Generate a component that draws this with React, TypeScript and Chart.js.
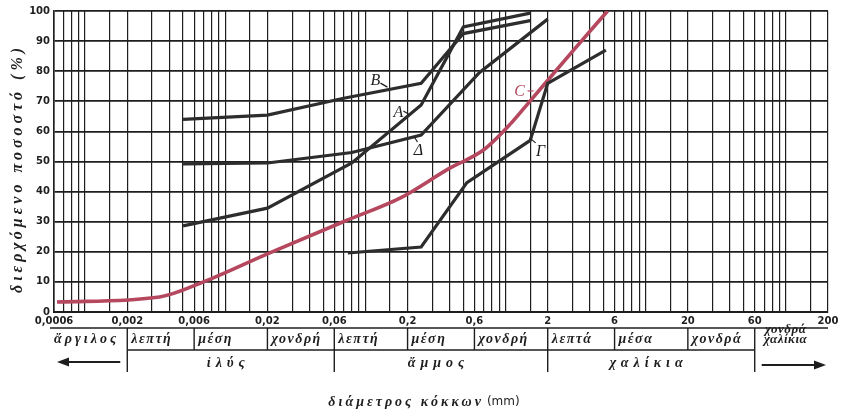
import { useEffect, useRef } from "react";
import { Chart, registerables } from "chart.js";

Chart.register(...registerables);

// ---- data (grain diameter in mm, passing %) ----
const sizesA = [0.005, 0.02, 0.08, 0.25, 0.5, 1.5];
const passingA = [28.6, 34.5, 49.5, 68.8, 94.7, 99.3];
const sizesB = [0.005, 0.02, 0.07, 0.25, 0.5, 1.5];
const passingB = [64, 65.4, 71, 76, 92.5, 96.8];
const sizesDelta = [0.005, 0.02, 0.08, 0.25, 0.65, 2];
const passingDelta = [49.2, 49.5, 53, 58.8, 79.5, 97.3];
const sizesGamma = [0.075, 0.25, 0.53, 1.5, 2, 5.2];
const passingGamma = [19.6, 21.6, 43, 57, 76, 87];
const sizesC = [0.00063, 0.0034, 0.007, 0.02, 0.074, 0.178, 0.4, 0.695, 1.085, 1.43, 2.09, 3.06, 5.35];
const passingC = [3.3, 5, 10, 19.3, 30.5, 37.9, 47.8, 53.8, 62.5, 69, 78, 87, 100];

// curve name labels (anchor in data space)
const curveNames = ["B", "A", "Δ", "C", "Γ"];
const curveNameSizes = [0.118, 0.172, 0.239, 1.26, 1.78];
const curveNamePassing = [76.7, 66.1, 53.5, 73.1, 53.2];

// axis ticks
const xMin = 0.0006;
const xMax = 200;
const gridMultipliers = [1, 1.5, 2, 3, 4, 5, 6, 7, 8, 9];
const gridDecades = [-4, -3, -2, -1, 0, 1, 2];
const xLabelTicks = [0.0006, 0.002, 0.006, 0.02, 0.06, 0.2, 0.6, 2, 6, 20, 60, 200];

// classification table
const classBounds = [0.0006, 0.002, 0.006, 0.02, 0.06, 0.2, 0.6, 2, 6, 20, 60, 200];
const classNames = ["ἄργιλος", "λεπτή", "μέση", "χονδρή", "λεπτή", "μέση", "χονδρή", "λεπτά", "μέσα", "χονδρά"];
const lastClassLines = ["χονδρά", "χαλίκια"];
const groupBounds = [0.002, 0.06, 2, 60];
const groupNames = ["ἰλύς", "ἄμμος", "χαλίκια"];

const yTitle = "διερχόμενο ποσοστό (%)";
const xTitleMain = "διάμετρος κόκκων";
const xTitleUnit = "(mm)";

// ---- styles ----
const INK = "#1e1e1e";
const CURVE = "#2d2d2d";
const RED = "#b5485f";
const SERIF = '"Liberation Serif", "DejaVu Serif", serif';
const SANS = '"DejaVu Sans", "Liberation Sans", sans-serif';
const nameTicks = [
  [5, 2, 12, 6],
  [5, -2, 10, 1],
  [-1, -9, -4, -14],
  [8, -1, 14, -1],
  [-11, -14, -5, -9],
];

const gridValues: number[] = [];
gridDecades.forEach((e) =>
  gridMultipliers.forEach((m) => {
    const v = Number((m * Math.pow(10, e)).toPrecision(6));
    if (v >= xMin * 0.999 && v <= xMax * 1.001) gridValues.push(v);
  })
);

const fmt = (v: number) => String(v).replace(".", ",");
const isLabelled = (v: number) => xLabelTicks.some((t) => Math.abs(t - v) / t < 1e-6);

const pts = (xs: number[], ys: number[]) => xs.map((x, i) => ({ x, y: ys[i] }));

function spaced(ctx: any, text: string, x: number, y: number, spacing: number, align: "center" | "left") {
  ctx.letterSpacing = spacing + "px";
  ctx.textAlign = "left";
  const w = ctx.measureText(text).width - spacing;
  const left = align === "center" ? x - w / 2 : x;
  ctx.fillText(text, left, y);
  ctx.letterSpacing = "0px";
  return w;
}

const overlay = {
  id: "overlay",
  beforeDraw(chart: any) {
    const ctx = chart.ctx;
    ctx.save();
    ctx.fillStyle = "#fff";
    ctx.fillRect(0, 0, chart.width, chart.height);
    ctx.restore();
  },
  afterDraw(chart: any) {
    const ctx = chart.ctx;
    const xs = chart.scales.x;
    const ys = chart.scales.y;
    const area = chart.chartArea;
    const px = (v: number) => xs.getPixelForValue(v);
    ctx.save();
    ctx.strokeStyle = INK;
    ctx.fillStyle = INK;
    ctx.lineWidth = 1.4;

    const top = area.bottom + 16;
    const mid = area.bottom + 38;
    const bot = area.bottom + 60;

    const line = (x1: number, y1: number, x2: number, y2: number) => {
      ctx.beginPath();
      ctx.moveTo(x1, y1);
      ctx.lineTo(x2, y2);
      ctx.stroke();
    };

    line(area.left - 4, top, area.right, top);
    line(px(groupBounds[0]), mid, px(groupBounds[groupBounds.length - 1]), mid);
    classBounds.slice(1, -1).forEach((b) => line(px(b), top, px(b), mid));
    groupBounds.forEach((b) => line(px(b), mid, px(b), bot));

    // row 1 names
    ctx.textBaseline = "middle";
    ctx.font = `italic bold 14px ${SERIF}`;
    classNames.forEach((n, i) => {
      const l = px(classBounds[i]);
      if (i === 0) spaced(ctx, n, l, top + 11, 3, "left");
      else spaced(ctx, n, l + 4, top + 11, 1.5, "left");
    });
    ctx.font = `italic bold 13px ${SERIF}`;
    const lc = (px(classBounds[classBounds.length - 2]) + area.right) / 2;
    spaced(ctx, lastClassLines[0], lc - 6, top + 2, 0.5, "center");
    spaced(ctx, lastClassLines[1], lc - 6, top + 12, 0.5, "center");

    // row 2 names
    ctx.font = `italic bold 14px ${SERIF}`;
    groupNames.forEach((n, i) => {
      const c = (px(groupBounds[i]) + px(groupBounds[i + 1])) / 2;
      spaced(ctx, n, c - 5, mid + 13, 5, "center");
    });

    // arrows
    const ay1 = mid + 12;
    ctx.lineWidth = 2.2;
    line(px(groupBounds[0]) - 7, ay1, area.left + 8, ay1);
    ctx.beginPath();
    ctx.moveTo(area.left + 3, ay1);
    ctx.lineTo(area.left + 15, ay1 - 4.5);
    ctx.lineTo(area.left + 15, ay1 + 4.5);
    ctx.closePath();
    ctx.fill();
    const ay2 = mid + 15;
    const gx = px(groupBounds[groupBounds.length - 1]);
    line(gx + 7, ay2, area.right - 8, ay2);
    ctx.beginPath();
    ctx.moveTo(area.right - 2, ay2);
    ctx.lineTo(area.right - 14, ay2 - 4.5);
    ctx.lineTo(area.right - 14, ay2 + 4.5);
    ctx.closePath();
    ctx.fill();

    // x title
    ctx.font = `italic bold 14px ${SERIF}`;
    ctx.letterSpacing = "3px";
    const wMain = ctx.measureText(xTitleMain).width;
    ctx.letterSpacing = "0px";
    ctx.font = `12px ${SANS}`;
    const wUnit = ctx.measureText(xTitleUnit).width;
    const total = wMain + 3 + wUnit;
    const tx = 424 - total / 2;
    const ty = area.bottom + 90;
    ctx.font = `italic bold 14px ${SERIF}`;
    spaced(ctx, xTitleMain, tx, ty, 3, "left");
    ctx.font = `12px ${SANS}`;
    ctx.fillText(xTitleUnit, tx + wMain + 3, ty);

    // y title
    ctx.save();
    ctx.translate(18, (area.top + area.bottom) / 2 + 9);
    ctx.rotate(-Math.PI / 2);
    ctx.font = `italic bold 16px ${SERIF}`;
    spaced(ctx, yTitle, 0, 0, 4, "center");
    ctx.restore();

    // curve names
    ctx.font = `italic 16px ${SERIF}`;
    ctx.lineWidth = 1.2;
    curveNames.forEach((n, i) => {
      const cx = px(curveNameSizes[i]);
      const cy = ys.getPixelForValue(curveNamePassing[i]);
      const col = n === "C" ? RED : INK;
      ctx.fillStyle = col;
      ctx.strokeStyle = col;
      ctx.textAlign = "center";
      ctx.fillText(n, cx, cy);
      const t = nameTicks[i];
      line(cx + t[0], cy + t[1], cx + t[2], cy + t[3]);
    });
    ctx.restore();
  },
};

export default function App() {
  const ref = useRef<HTMLCanvasElement>(null);
  useEffect(() => {
    const dark = (xs: number[], ys: number[]) => ({
      data: pts(xs, ys),
      borderColor: CURVE,
      borderWidth: 3.2,
      pointRadius: 0,
      tension: 0,
      fill: false,
    });
    const chart = new Chart(ref.current as HTMLCanvasElement, {
      type: "line",
      data: {
        datasets: [
          dark(sizesA, passingA),
          dark(sizesB, passingB),
          dark(sizesDelta, passingDelta),
          dark(sizesGamma, passingGamma),
          {
            data: pts(sizesC, passingC),
            borderColor: RED,
            borderWidth: 3.6,
            pointRadius: 0,
            cubicInterpolationMode: "monotone",
            fill: false,
          },
        ] as any,
      },
      options: {
        responsive: false,
        animation: false,
        events: [],
        layout: { padding: { top: 11, right: 15, left: 0, bottom: 0 } },
        plugins: { legend: { display: false }, tooltip: { enabled: false }, title: { display: false } },
        scales: {
          x: {
            type: "logarithmic",
            min: xMin,
            max: xMax,
            bounds: "data",
            afterBuildTicks: (scale: any) => {
              scale.ticks = gridValues.map((v) => ({ value: v }));
            },
            afterFit: (scale: any) => {
              scale.height = 103;
            },
            ticks: {
              autoSkip: false,
              maxRotation: 0,
              minRotation: 0,
              padding: 3,
              color: INK,
              font: { family: SANS, size: 10, weight: "bold" },
              callback: (v: any) => (isLabelled(Number(v)) ? fmt(Number(v)) : ""),
            },
            grid: { color: INK, lineWidth: 1.2, drawTicks: false },
            border: { display: true, color: INK, width: 2 },
          },
          y: {
            type: "linear",
            min: 0,
            max: 100,
            afterFit: (scale: any) => {
              scale.width = 54;
            },
            ticks: {
              stepSize: 10,
              padding: 4,
              color: INK,
              font: { family: SANS, size: 10, weight: "bold" },
            },
            grid: { color: INK, lineWidth: 1.7, drawTicks: false },
            border: { display: true, color: INK, width: 1.6 },
          },
        },
      } as any,
      plugins: [overlay],
    });
    return () => chart.destroy();
  }, []);
  return (
    <div style={{ position: "fixed", left: 0, top: 0, width: 843, height: 415, background: "#fff" }}>
      <canvas ref={ref} width={843} height={415} style={{ display: "block", width: 843, height: 415 }} />
    </div>
  );
}
